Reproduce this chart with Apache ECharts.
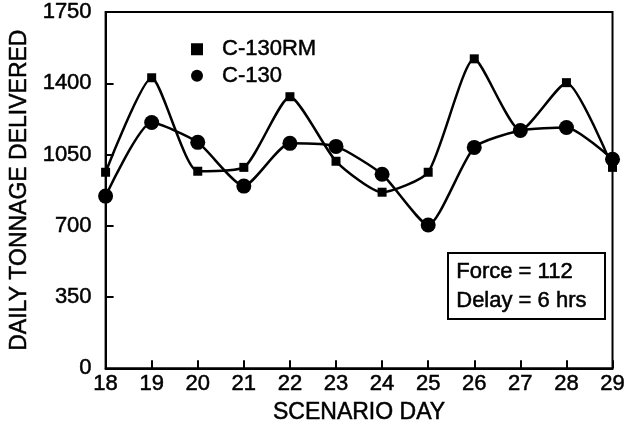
<!DOCTYPE html>
<html>
<head>
<meta charset="utf-8">
<script src="https://cdn.jsdelivr.net/npm/echarts@6/dist/echarts.min.js"></script>
<style>
  html, body { margin: 0; padding: 0; background: #fff; }
  #chart { width: 628px; height: 429px; }
</style>
</head>
<body>
<div id="chart"></div>
<script>
  var days = [18, 19, 20, 21, 22, 23, 24, 25, 26, 27, 28, 29]
  var c130rm = [963, 1427, 968, 987, 1334, 1017, 865, 963, 1520, 1168, 1403, 987]
  var c130 = [846, 1207, 1110, 895, 1105, 1090, 953, 704, 1085, 1168, 1183, 1027]
  var yTicks = [0, 350, 700, 1050, 1400, 1750]

  function pairs (vals) {
    return days.map(function (d, i) { return [d, vals[i]] })
  }

  var font = 'Liberation Sans, Arial, sans-serif'
  // scanned text looks heavier, thicken it a bit
  var txt = { fontFamily: font, fontSize: 22, color: '#000', textBorderColor: '#000', textBorderWidth: 0.5 }

  var chart = echarts.init(document.getElementById('chart'))
  chart.setOption({
    animation: false,
    grid: { left: 96, right: 11, top: 12, bottom: 59, show: true, borderColor: '#000', borderWidth: 2 },
    legend: {
      orient: 'vertical',
      left: 186,
      top: 33,
      itemGap: 4,
      itemWidth: 12,
      itemHeight: 12,
      textStyle: Object.assign({}, txt, { padding: [0, 0, 0, 14] }),
      data: [
        { name: 'C-130RM', icon: 'rect' },
        { name: 'C-130', icon: 'circle' }
      ]
    },
    xAxis: {
      type: 'value',
      min: 18,
      max: 29,
      interval: 1,
      name: 'SCENARIO DAY',
      nameLocation: 'middle',
      nameGap: 30,
      nameTextStyle: Object.assign({}, txt, { fontSize: 23 }),
      axisLine: { lineStyle: { color: '#000', width: 2 } },
      axisTick: { inside: true, length: 8, lineStyle: { color: '#000', width: 2 } },
      axisLabel: Object.assign({}, txt, { margin: 5 }),
      splitLine: { show: false }
    },
    yAxis: {
      type: 'value',
      min: 0,
      max: 1750,
      interval: 350,
      name: 'DAILY TONNAGE DELIVERED',
      nameLocation: 'middle',
      nameGap: 67,
      nameTextStyle: Object.assign({}, txt, { fontSize: 23 }),
      axisLine: { lineStyle: { color: '#000', width: 2 } },
      axisTick: { inside: true, length: 8, lineStyle: { color: '#000', width: 2 } },
      axisLabel: Object.assign({}, txt, {
        margin: 14,
        formatter: function (v) { return yTicks.indexOf(v) >= 0 ? String(v) : '' }
      }),
      splitLine: { show: false }
    },
    series: [
      {
        name: 'C-130RM',
        type: 'line',
        smooth: 0.2,
        symbol: 'rect',
        symbolSize: 9,
        data: pairs(c130rm),
        itemStyle: { color: '#000' },
        lineStyle: { color: '#000', width: 2.5 }
      },
      {
        name: 'C-130',
        type: 'line',
        smooth: 0.2,
        symbol: 'circle',
        symbolSize: 15,
        data: pairs(c130),
        itemStyle: { color: '#000' },
        lineStyle: { color: '#000', width: 2.5 }
      }
    ],
    graphic: [
      {
        type: 'rect',
        left: 447,
        top: 252,
        shape: { width: 157, height: 66 },
        style: { fill: '#fff', stroke: '#000', lineWidth: 2 }
      },
      {
        type: 'text',
        left: 456,
        top: 257,
        style: {
          text: 'Force = 112\nDelay = 6 hrs', font: '22px ' + font, fill: '#000',
          lineHeight: 29, stroke: '#000', lineWidth: 0.5
        }
      }
    ]
  })
</script>
</body>
</html>
